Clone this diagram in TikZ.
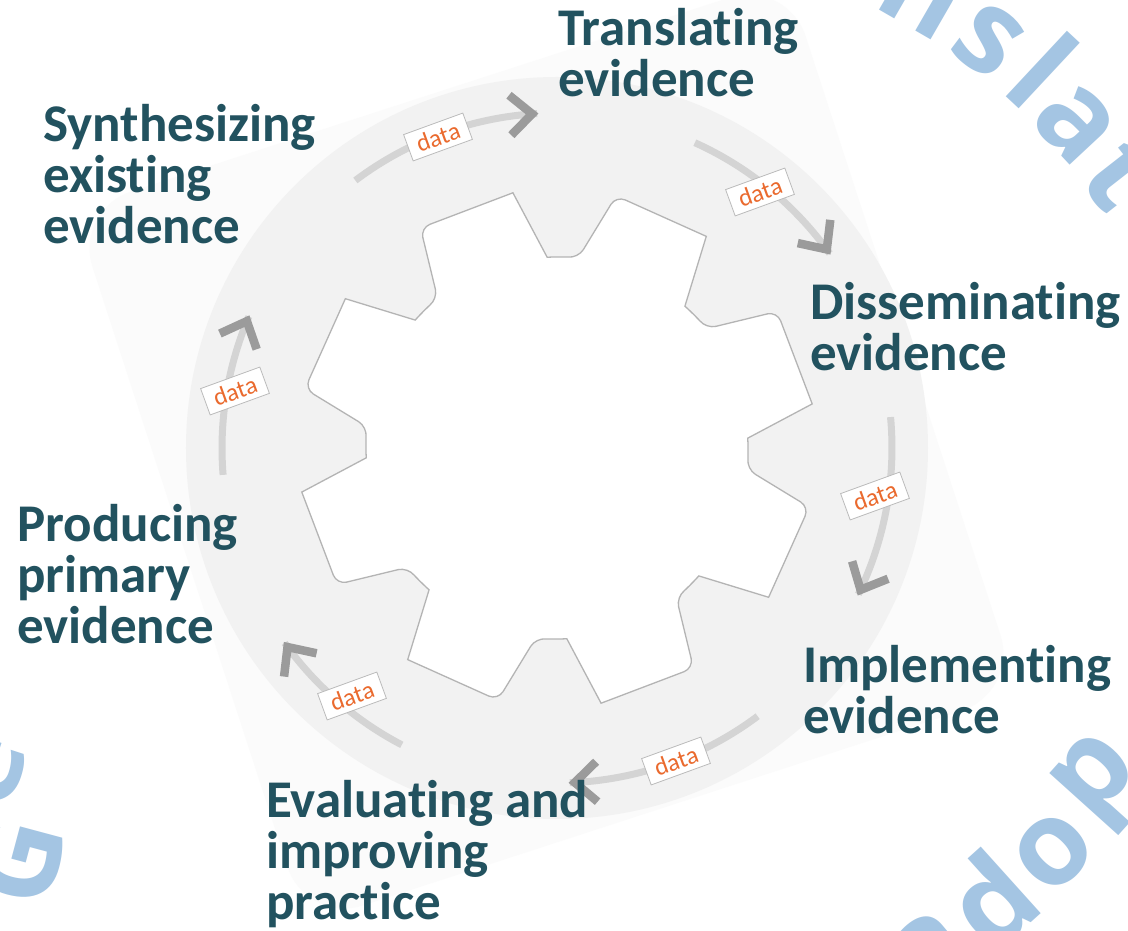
\documentclass[tikz,border=0pt]{standalone}
\usepackage{fontspec}
\setmainfont{Carlito}[RawFeature={-liga;-clig;-dlig;-rlig}]
\newfontfamily\wmfont{Open Sans}
\usetikzlibrary{calc}
\definecolor{bgsq}{HTML}{FBFBFB}
\definecolor{bgc}{HTML}{F2F2F2}
\definecolor{gearline}{HTML}{B4B4B4}
\definecolor{boxline}{HTML}{BBBBBB}
\definecolor{arcgray}{HTML}{D4D4D4}
\definecolor{chevgray}{HTML}{9B9B9B}
\definecolor{stagecol}{HTML}{22525F}
\definecolor{dataor}{HTML}{EA6A2E}
\definecolor{wmblue}{HTML}{A4C5E3}
\newcommand\stagelines[1]{\vtop{#1}}
\newcommand\nolig{\kern0pt }
\begin{document}
\begin{tikzpicture}[x=1pt,y=1pt,
  stage/.style={anchor=base west, inner sep=0pt, text=stagecol,
    font=\fontsize{53}{51}\selectfont\bfseries},
  datalbl/.style={draw=boxline, line width=0.8pt, fill=white, text=dataor,
    font=\fontsize{25}{27}\selectfont, minimum width=63pt, minimum height=28pt,
    inner sep=0pt, rotate=20},
  flow/.style={draw=arcgray, line width=7pt},
  chev/.style={draw=chevgray, line width=8.5pt, line join=miter},
  gearshape/.style={draw=gearline, line width=1.3pt, fill=white},
  wm/.style={text=wmblue, inner sep=0pt, font=\wmfont\bfseries\fontsize{118}{118}\selectfont}]

\useasboundingbox (-557,-483) rectangle (571,448);
\clip (-557,-483) rectangle (571,448);
\fill[white] (-557,-483) rectangle (571,448);

% faint rotated square and grey disc
\fill[bgsq, rounded corners=60pt] (-483,238) -- (230,469) -- (462,-244) -- (-251,-476) -- cycle;
\fill[bgc] (0,0) circle (371);

% watermark letters
\node[wm, rotate=-30] (wn) at (364,452) {n};
\node[wm, rotate=-37] (ws) at (431,408) {s};
\node[wm, rotate=-43] (wl) at (486,378) {l};
\node[wm, rotate=-47] (wa) at (518,324) {a};
\node[wm, rotate=-52] (wt) at (566,274) {t};
\node[wm, rotate=40] (wa2) at (372,-503) {a};
\node[wm, rotate=42] (wd) at (434,-452) {d};
\node[wm, rotate=45] (wo) at (497,-404) {o};
\node[wm, rotate=48] (wp) at (546,-335) {p};
\node[wm, rotate=75] (wG) at (-540,-412) {G};
\node[wm, rotate=72] (we) at (-568,-322) {e};

% gear
\draw[gearshape] ({65.8-17.85}:191)
  \foreach \k [evaluate=\k as \a using 65.8+45*\k] in {0,...,7} {
    [sharp corners] -- ({\a-11}:259) [rounded corners=10pt] -- ({\a+11}:259) -- ({\a+17.85}:191)
    [sharp corners] arc[start angle={\a+17.85}, end angle={\a+27.15}, radius=191]
  } -- cycle;

% flow arcs with chevrons
\foreach \s/\e/\n in {127/93.4/1, 65.7/35.5/2, 5.3/-25.9/3, -53.2/-87.8/4, -117.6/-144.4/5, 184.6/156.9/6} {
  \coordinate (f\n s) at (\s:335);
  \draw[flow] (f\n s) arc[start angle=\s, end angle=\e, radius=335] coordinate (f\n e);
  \begin{scope}[shift={(f\n e)}, rotate={\e-90}]
    \draw[chev] (-27,20) -- (-5,0) -- (-27,-20);
  \end{scope}
}

% data labels
\node[datalbl] (d1) at (-119,311) {data};
\node[datalbl] (d2) at (203,256) {data};
\node[datalbl] (d3) at (318,-48) {data};
\node[datalbl] (d4) at (119,-313) {data};
\node[datalbl] (d5) at (-205,-248) {data};
\node[datalbl] (d6) at (-322,57) {data};

% stage labels
\node[stage] (syn) at (-514,306) {\stagelines{\hbox{Synthesizing}\hbox{exist\nolig ing}\hbox{evidence}}};
\node[stage] (tra) at (1,402) {\stagelines{\hbox{Translat\nolig ing}\hbox{evidence}}};
\node[stage] (dis) at (253,128) {\stagelines{\hbox{Disseminat\nolig ing}\hbox{evidence}}};
\node[stage] (imp) at (246,-235) {\stagelines{\hbox{Implementing}\hbox{evidence}}};
\node[stage] (eva) at (-291,-370) {\stagelines{\hbox{Evaluat\nolig ing and}\hbox{improving}\hbox{pract\nolig ice}}};
\node[stage] (pro) at (-540,-94) {\stagelines{\hbox{Producing}\hbox{primary}\hbox{evidence}}};
\end{tikzpicture}
\end{document}
